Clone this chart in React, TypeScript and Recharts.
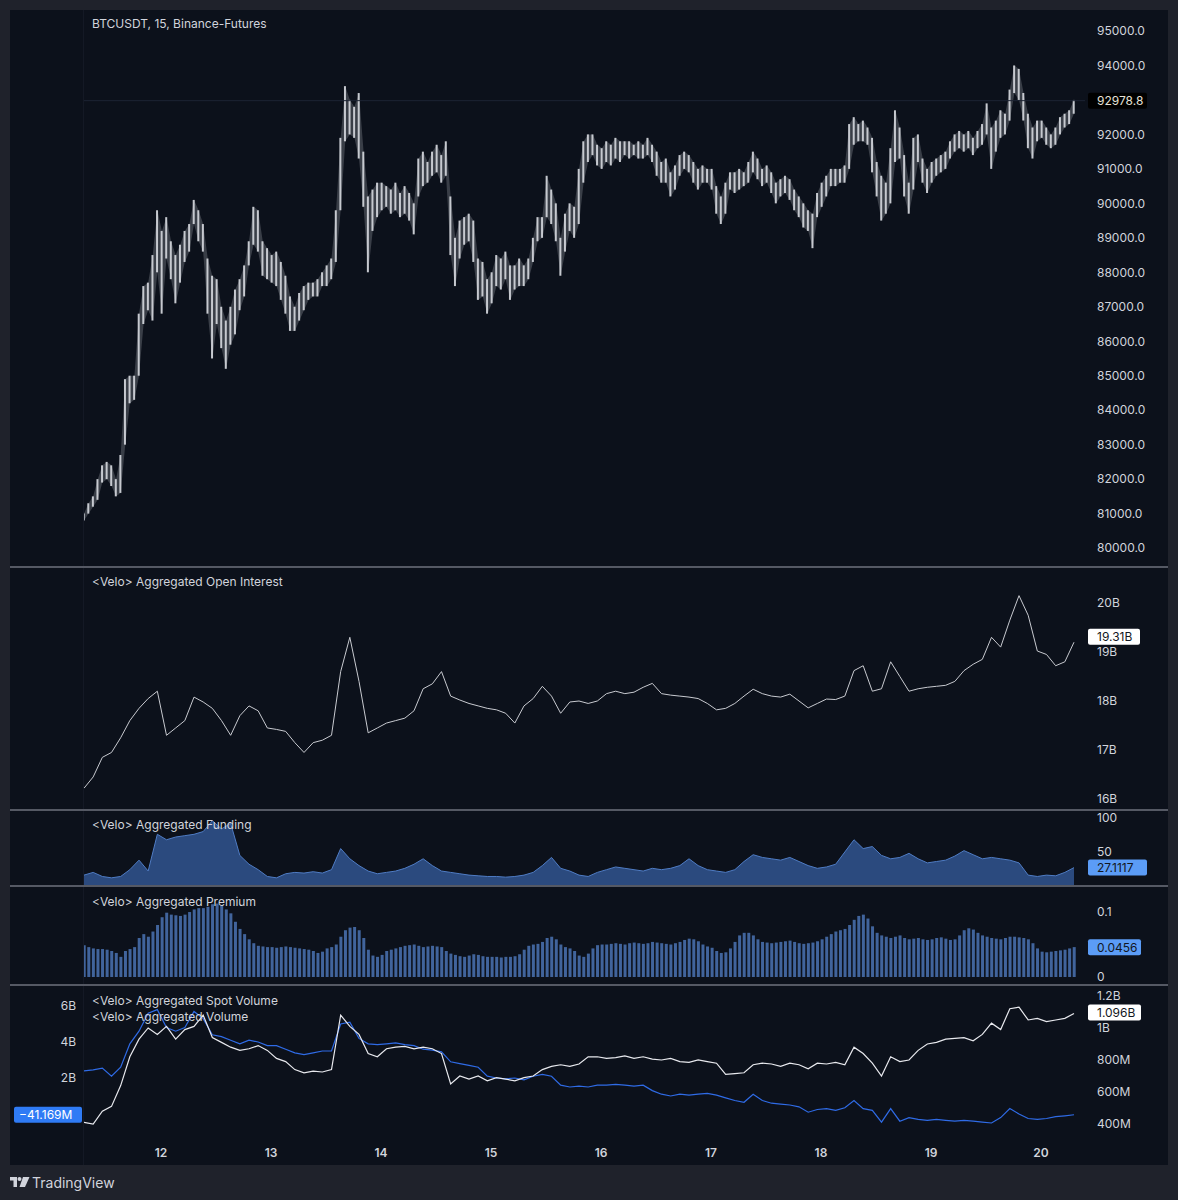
import React from 'react'
import { ComposedChart, Bar, Line, Area, XAxis, YAxis, ReferenceLine } from 'recharts'

const FONT = 'Inter, Roboto, "Noto Sans", sans-serif'
const TEXT = '#d1d4dc'
const BG = '#0c111b'
const FRAME = '#1f222b'
const W = 1178

// time axis in days of the month; first bar ~11th 07:00
const T0 = 11.3
const X_DOMAIN: [number, number] = [11.3, 20.4]
const DAY_TICKS = [12, 13, 14, 15, 16, 17, 18, 19, 20]

// 93000 is covered by the last-price tag in the reference
const PRICE_TICKS = [80000, 81000, 82000, 83000, 84000, 85000, 86000, 87000, 88000, 89000, 90000, 91000, 92000, 94000, 95000]
const OI_TICKS = [16, 17, 18, 19, 20]
const FUNDING_TICKS = [50, 100]
const PREMIUM_TICKS = [0, 0.1]
const VOL_LEFT_TICKS = [2, 4, 6]
const VOL_RIGHT_TICKS = [400, 600, 800, 1000, 1200]

// BTCUSDT hourly low / high
const priceLow = [
  80800, 81000, 81200, 81400, 81900, 82000, 81800, 81500, 81600, 83000,
  84200, 84300, 85000, 86500, 86900, 86600, 88000, 86800, 88400, 87800,
  87100, 87700, 88300, 88600, 89400, 88900, 88600, 86800, 85500, 86500,
  85800, 85200, 85900, 86200, 86900, 87300, 88200, 88800, 88600, 87900,
  87800, 87700, 87600, 87200, 86800, 86300, 86300, 86600, 86900, 87200,
  87300, 87300, 87600, 87600, 87800, 88300, 89800, 91800, 92000, 91900,
  91300, 89900, 88000, 89200, 89600, 89800, 89900, 89700, 89800, 89600,
  89700, 89500, 89100, 90200, 90500, 90600, 90800, 90900, 90600, 90800,
  88500, 87600, 88400, 88800, 88900, 88300, 87200, 87300, 86800, 87100,
  87600, 87500, 87800, 87200, 87500, 87600, 87600, 87800, 88300, 88900,
  89000, 89600, 89400, 88900, 87900, 88600, 89200, 89000, 89400, 90600,
  91200, 91400, 91100, 91000, 91200, 91100, 91300, 91200, 91400, 91300,
  91400, 91300, 91300, 91400, 91200, 90800, 90600, 90600, 90200, 90400,
  90800, 91000, 90900, 90600, 90400, 90600, 90600, 90400, 89700, 89400,
  89700, 90400, 90300, 90400, 90500, 90600, 90900, 90700, 90500, 90600,
  90300, 90000, 90200, 90300, 90100, 89800, 89600, 89300, 89200, 88700,
  89600, 89900, 90200, 90500, 90500, 90600, 90600, 91000, 91700, 91800,
  91800, 91700, 90900, 90200, 89500, 89700, 90000, 91200, 91300, 90200,
  89700, 90400, 91200, 90600, 90300, 90600, 90800, 90900, 91000, 91300,
  91500, 91600, 91500, 91600, 91400, 91600, 91700, 92000, 91000, 91500,
  91900, 92000, 92400, 93200, 93000, 92400, 91600, 91300, 91800, 91900,
  91700, 91600, 91700, 92000, 92200, 92300, 92600,
]
const priceHigh = [
  81000, 81300, 81500, 82000, 82400, 82500, 82400, 82000, 82700, 84900,
  85000, 85000, 86800, 87600, 87700, 88500, 89800, 89200, 89600, 88900,
  88500, 88800, 89200, 89400, 90100, 89800, 89400, 88400, 87900, 87800,
  87000, 86600, 87000, 87500, 87800, 88200, 88900, 89900, 89800, 88900,
  88700, 88500, 88600, 88300, 87900, 87300, 87000, 87400, 87600, 87700,
  87700, 87800, 88000, 88200, 88400, 89800, 91900, 93400, 93000, 92800,
  93200, 91500, 90200, 90400, 90600, 90600, 90500, 90400, 90600, 90300,
  90500, 90300, 90000, 91300, 91500, 91200, 91500, 91700, 91400, 91800,
  90200, 89000, 89500, 89600, 89700, 89500, 88400, 88300, 87800, 88000,
  88500, 88400, 88600, 88200, 88200, 88400, 88200, 88400, 89000, 89600,
  89600, 90800, 90400, 90000, 89000, 89700, 90000, 89900, 91000, 91800,
  92000, 92000, 91700, 91600, 91800, 91700, 91900, 91800, 91800, 91800,
  91700, 91800, 91700, 91900, 91700, 91500, 91200, 91300, 90900, 91100,
  91400, 91500, 91400, 91200, 91000, 91100, 91000, 91000, 90500, 90200,
  90600, 90900, 90900, 91000, 90900, 91200, 91500, 91300, 91000, 91100,
  90900, 90600, 90700, 90800, 90700, 90400, 90200, 90000, 89800, 89700,
  90300, 90600, 90800, 91000, 91000, 91000, 91100, 92300, 92500, 92300,
  92400, 92200, 91900, 91200, 90800, 90600, 91600, 92700, 92200, 91400,
  90600, 91900, 92000, 91300, 91000, 91200, 91300, 91400, 91500, 91800,
  92000, 92100, 92000, 92100, 91900, 92100, 92300, 92900, 92200, 92400,
  92700, 92600, 93300, 94000, 93900, 93200, 92600, 92200, 92400, 92400,
  92200, 92000, 92200, 92500, 92600, 92700, 93000,
]
const lastPrice = 92978.8

// 2-hourly open interest, billions
const openInterest = [
  16.22, 16.45, 16.85, 16.95, 17.25, 17.6, 17.85, 18.05, 18.2, 17.3,
  17.45, 17.6, 18.08, 17.98, 17.85, 17.6, 17.3, 17.7, 17.9, 17.8,
  17.45, 17.42, 17.38, 17.15, 16.95, 17.15, 17.2, 17.3, 18.6, 19.3,
  18.4, 17.35, 17.45, 17.55, 17.6, 17.65, 17.8, 18.25, 18.35, 18.6,
  18.1, 18.02, 17.95, 17.9, 17.85, 17.82, 17.75, 17.55, 17.9, 18.05,
  18.3, 18.1, 17.75, 17.98, 18.0, 17.95, 18.0, 18.15, 18.2, 18.15,
  18.18, 18.28, 18.36, 18.15, 18.12, 18.1, 18.08, 18.05, 17.95, 17.82,
  17.85, 17.95, 18.1, 18.24, 18.15, 18.1, 18.08, 18.14, 18.0, 17.86,
  17.95, 18.04, 18.03, 18.1, 18.62, 18.72, 18.2, 18.25, 18.8, 18.5,
  18.2, 18.25, 18.28, 18.3, 18.32, 18.4, 18.62, 18.75, 18.85, 19.3,
  19.1, 19.65, 20.15, 19.75, 19.02, 18.95, 18.72, 18.8, 19.2,
]
const lastOI = 19.31

// 2-hourly aggregated funding
const funding = [
  16, 20, 14, 12, 14, 24, 38, 22, 76, 68,
  72, 74, 76, 80, 96, 84, 92, 45, 32, 24,
  14, 12, 18, 20, 19, 21, 19, 24, 55, 40,
  30, 22, 18, 20, 22, 26, 32, 40, 30, 22,
  20, 18, 16, 15, 14, 14, 13, 14, 16, 20,
  30, 42, 26, 22, 16, 14, 20, 24, 28, 26,
  24, 22, 26, 24, 26, 30, 40, 30, 24, 22,
  20, 24, 36, 46, 42, 40, 38, 42, 36, 30,
  26, 28, 32, 50, 68, 55, 58, 45, 40, 42,
  48, 40, 34, 36, 38, 44, 52, 46, 40, 42,
  40, 38, 34, 16, 14, 16, 15, 20, 27,
]
const lastFunding = 27.1117

// hourly aggregated premium
const premium = [
  0.049, 0.046, 0.044, 0.043, 0.043, 0.042, 0.040, 0.037, 0.031, 0.040,
  0.043, 0.046, 0.060, 0.066, 0.062, 0.070, 0.080, 0.092, 0.099, 0.096,
  0.095, 0.094, 0.096, 0.100, 0.104, 0.106, 0.106, 0.108, 0.112, 0.113,
  0.110, 0.104, 0.098, 0.085, 0.074, 0.066, 0.058, 0.052, 0.048, 0.047,
  0.046, 0.046, 0.045, 0.046, 0.047, 0.046, 0.045, 0.044, 0.043, 0.042,
  0.040, 0.037, 0.039, 0.044, 0.046, 0.050, 0.062, 0.072, 0.076, 0.077,
  0.072, 0.060, 0.042, 0.033, 0.031, 0.034, 0.040, 0.042, 0.044, 0.046,
  0.048, 0.049, 0.050, 0.048, 0.046, 0.047, 0.048, 0.047, 0.046, 0.040,
  0.036, 0.034, 0.032, 0.031, 0.033, 0.035, 0.034, 0.032, 0.031, 0.031,
  0.031, 0.030, 0.031, 0.031, 0.032, 0.035, 0.042, 0.048, 0.050, 0.051,
  0.054, 0.060, 0.062, 0.058, 0.050, 0.046, 0.044, 0.040, 0.033, 0.031,
  0.036, 0.044, 0.049, 0.050, 0.050, 0.051, 0.052, 0.051, 0.050, 0.052,
  0.053, 0.052, 0.051, 0.052, 0.054, 0.053, 0.052, 0.051, 0.050, 0.052,
  0.054, 0.057, 0.059, 0.058, 0.055, 0.050, 0.047, 0.045, 0.040, 0.037,
  0.038, 0.044, 0.054, 0.064, 0.068, 0.068, 0.064, 0.058, 0.054, 0.053,
  0.052, 0.053, 0.054, 0.055, 0.056, 0.054, 0.052, 0.051, 0.052, 0.053,
  0.055, 0.058, 0.062, 0.066, 0.070, 0.072, 0.074, 0.080, 0.088, 0.094,
  0.096, 0.090, 0.078, 0.068, 0.064, 0.062, 0.060, 0.062, 0.064, 0.060,
  0.058, 0.059, 0.060, 0.058, 0.057, 0.058, 0.060, 0.061, 0.059, 0.057,
  0.058, 0.064, 0.072, 0.075, 0.073, 0.068, 0.064, 0.062, 0.060, 0.059,
  0.058, 0.060, 0.062, 0.062, 0.061, 0.060, 0.058, 0.052, 0.044, 0.039,
  0.038, 0.039, 0.040, 0.041, 0.042, 0.044, 0.046,
]
const lastPremium = 0.0456

// 2-hourly spot volume line, millions (right scale)
const spotVolume = [
  410, 400, 480, 510, 640, 820, 930, 1000, 960, 1010,
  930, 990, 1010, 1080, 940, 910, 880, 860, 870, 890,
  860, 810, 790, 740, 720, 730, 725, 740, 1080, 1010,
  960, 840, 820, 870, 880, 885, 870, 880, 870, 840,
  650, 700, 680, 700, 670, 690, 680, 670, 690, 700,
  740, 760, 770, 760, 775, 820, 820, 810, 815, 825,
  810, 820, 805, 800, 810, 790, 785, 800, 790, 780,
  710, 715, 720, 770, 780, 775, 760, 780, 770, 745,
  780, 775, 785, 770, 880, 840, 780, 700, 820, 790,
  800, 860, 900, 910, 930, 935, 940, 920, 960, 1030,
  990, 1120, 1130, 1050, 1060, 1040, 1050, 1060, 1090,
]
const lastSpot = '1.096B'

// 2-hourly aggregated volume line, billions (left scale)
const aggVolume = [
  2.4, 2.45, 2.55, 2.1, 2.6, 3.9, 4.6, 5.6, 5.8, 4.8,
  4.6, 4.8, 5.7, 5.3, 4.4, 4.3, 4.1, 3.9, 4.1, 4.0,
  3.8, 3.8, 3.6, 3.4, 3.3, 3.4, 3.5, 3.5, 5.0, 5.1,
  4.2, 3.9, 3.85, 3.9, 3.95, 3.85, 3.8, 3.6, 3.55, 3.45,
  2.9, 2.8, 2.7, 2.6, 2.1, 2.0, 1.95, 2.0, 1.9, 2.1,
  2.2, 2.1, 1.6, 1.5, 1.55, 1.5, 1.6, 1.6, 1.65, 1.6,
  1.55, 1.6, 1.3, 1.1, 1.0, 1.1, 1.05, 1.1, 1.15, 1.05,
  0.9, 0.75, 0.65, 1.1, 0.75, 0.6, 0.55, 0.5, 0.4, 0.1,
  0.25, 0.3, 0.2, 0.35, 0.75, 0.3, 0.2, -0.45, 0.3, -0.4,
  -0.2, -0.3, -0.35, -0.3, -0.35, -0.4, -0.35, -0.4, -0.45, -0.5,
  -0.2, 0.3, 0.0, -0.25, -0.3, -0.25, -0.15, -0.1, -0.04,
]
const lastAgg = -0.041169

const priceData = priceHigh.map((hi, i) => ({ t: T0 + i / 24, range: [priceLow[i], hi] }))
const oiData = openInterest.map((v, i) => ({ t: T0 + i / 12, v }))
const fundingData = funding.map((v, i) => ({ t: T0 + i / 12, v }))
const premiumData = premium.map((v, i) => ({ t: T0 + i / 24, v }))
const volumeData = spotVolume.map((v, i) => ({ t: T0 + i / 12, spot: v, agg: aggVolume[i] }))

const tickStyle = { fill: TEXT, fontSize: 12, fontFamily: FONT }

function Tag(props: any) {
  const { viewBox, text, bg, fg, w, side } = props
  if (!viewBox) return null
  const y = viewBox.y
  const x = side === 'left' ? viewBox.x - w - 2 : viewBox.x + viewBox.width + 3
  return (
    <g>
      <rect x={x} y={y - 8} width={w} height={16} rx={2} fill={bg} />
      <text x={x + (side === 'left' ? 5 : 9)} y={y} dy="0.36em" fill={fg} fontSize={12} fontFamily={FONT}>
        {text}
      </text>
    </g>
  )
}

function Title({ top, children }: { top: number; children: React.ReactNode }) {
  return (
    <div style={{ position: 'absolute', left: 92, top, fontSize: 12, lineHeight: '14px', color: TEXT, fontFamily: FONT, whiteSpace: 'nowrap' }}>
      {children}
    </div>
  )
}

function Divider({ top }: { top: number }) {
  return <div style={{ position: 'absolute', left: 10, top, width: 1158, height: 2, background: '#555964' }} />
}

const pane = (top: number): React.CSSProperties => ({ position: 'absolute', left: 0, top })
const hiddenX = <XAxis type="number" dataKey="t" domain={X_DOMAIN} allowDataOverflow hide />

function fmtVolRight(v: number) {
  return v >= 1000 ? `${v / 1000}B` : `${v}M`
}

export default function App() {
  return (
    <div style={{ position: 'relative', width: W, height: 1200, background: FRAME, fontFamily: FONT, overflow: 'hidden' }}>
      <style>{`body{margin:0;background:${FRAME}}`}</style>
      <div style={{ position: 'absolute', left: 10, top: 10, width: 1158, height: 1155, background: BG }} />
      <div style={{ position: 'absolute', left: 83, top: 10, width: 1, height: 1155, background: '#141925' }} />

      {/* price */}
      <div style={pane(10)}>
        <ComposedChart width={W} height={556} data={priceData} margin={{ top: 0, right: 0, bottom: 0, left: 84 }}>
          {hiddenX}
          <YAxis orientation="right" width={93} domain={[79480, 95609]} allowDataOverflow ticks={PRICE_TICKS} interval={0}
            axisLine={false} tickLine={false} tickMargin={6} tick={tickStyle} tickFormatter={(v: number) => v.toFixed(1)} />
          <ReferenceLine y={lastPrice} stroke="#1d2433" strokeWidth={1}
            label={<Tag text={lastPrice.toFixed(1)} bg="#000000" fg="#e6e2d8" w={59} />} />
          <Area dataKey="range" stroke="none" fill="#8f939c" fillOpacity={0.35} type="linear" isAnimationActive={false} />
          <Bar dataKey="range" fill="#c6c9cf" barSize={2} isAnimationActive={false} />
        </ComposedChart>
      </div>

      {/* open interest */}
      <div style={pane(569)}>
        <ComposedChart width={W} height={240} data={oiData} margin={{ top: 0, right: 0, bottom: 0, left: 84 }}>
          {hiddenX}
          <YAxis orientation="right" width={93} domain={[15.796, 20.694]} allowDataOverflow ticks={OI_TICKS} interval={0}
            axisLine={false} tickLine={false} tickMargin={6} tick={tickStyle} tickFormatter={(v: number) => `${v}B`} />
          <ReferenceLine y={lastOI} strokeOpacity={0}
            label={<Tag text={`${lastOI}B`} bg="#ffffff" fg="#131722" w={52} />} />
          <Line dataKey="v" stroke="#c8cad0" strokeWidth={1} dot={false} type="linear" isAnimationActive={false} />
        </ComposedChart>
      </div>

      {/* funding */}
      <div style={pane(804)}>
        <ComposedChart width={W} height={82} data={fundingData} margin={{ top: 8, right: 0, bottom: 0, left: 84 }}>
          {hiddenX}
          <YAxis orientation="right" width={93} domain={[0, 108.8]} allowDataOverflow ticks={FUNDING_TICKS} interval={0}
            axisLine={false} tickLine={false} tickMargin={6} tick={tickStyle} />
          <Area dataKey="v" stroke="#4f7cc4" strokeWidth={1} fill="#2b4a7e" fillOpacity={1} type="linear" isAnimationActive={false} />
          <ReferenceLine y={lastFunding} strokeOpacity={0}
            label={<Tag text={String(lastFunding)} bg="#5b9cf6" fg="#131722" w={59} />} />
        </ComposedChart>
      </div>

      {/* premium */}
      <div style={pane(888)}>
        <ComposedChart width={W} height={96} data={premiumData} margin={{ top: 0, right: 0, bottom: 0, left: 84 }}>
          {hiddenX}
          <YAxis orientation="right" width={93} domain={[-0.0108, 0.137]} allowDataOverflow ticks={PREMIUM_TICKS} interval={0}
            axisLine={false} tickLine={false} tickMargin={6} tick={tickStyle} />
          <Bar dataKey="v" fill="#41649c" barSize={3} isAnimationActive={false} />
          <ReferenceLine y={lastPremium} strokeOpacity={0}
            label={<Tag text={String(lastPremium)} bg="#5b9cf6" fg="#131722" w={53} />} />
        </ComposedChart>
      </div>

      {/* volumes */}
      <div style={pane(987)}>
        <ComposedChart width={W} height={178} data={volumeData} margin={{ top: 0, right: 0, bottom: 0, left: 0 }}>
          <XAxis type="number" dataKey="t" domain={X_DOMAIN} allowDataOverflow ticks={DAY_TICKS} interval={0} height={25}
            axisLine={false} tickLine={false} tick={{ ...tickStyle, fontWeight: 600 }} />
          <YAxis yAxisId="l" orientation="left" width={84} domain={[-1.444, 7.056]} allowDataOverflow ticks={VOL_LEFT_TICKS} interval={0}
            axisLine={false} tickLine={false} tick={tickStyle} tickFormatter={(v: number) => `${v}B`} />
          <YAxis yAxisId="r" orientation="right" width={93} domain={[300, 1256]} allowDataOverflow ticks={VOL_RIGHT_TICKS} interval={0}
            axisLine={false} tickLine={false} tickMargin={6} tick={tickStyle} tickFormatter={fmtVolRight} />
          <Line yAxisId="l" dataKey="agg" stroke="#2f6be6" strokeWidth={1.2} dot={false} type="linear" isAnimationActive={false} />
          <Line yAxisId="r" dataKey="spot" stroke="#e8e9ee" strokeWidth={1.2} dot={false} type="linear" isAnimationActive={false} />
          <ReferenceLine yAxisId="r" y={1096} strokeOpacity={0}
            label={<Tag text={lastSpot} bg="#ffffff" fg="#131722" w={53} />} />
          <ReferenceLine yAxisId="l" y={lastAgg} strokeOpacity={0}
            label={<Tag side="left" text="−41.169M" bg="#2f7bf5" fg="#ffffff" w={68} />} />
        </ComposedChart>
      </div>

      <Divider top={566} />
      <Divider top={809} />
      <Divider top={885} />
      <Divider top={984} />

      <Title top={17}>BTCUSDT, 15, Binance-Futures</Title>
      <Title top={575}>{'<Velo> Aggregated Open Interest'}</Title>
      <Title top={818}>{'<Velo> Aggregated Funding'}</Title>
      <Title top={895}>{'<Velo> Aggregated Premium'}</Title>
      <Title top={994}>{'<Velo> Aggregated Spot Volume'}</Title>
      <Title top={1010}>{'<Velo> Aggregated Volume'}</Title>

      {/* footer */}
      <svg style={{ position: 'absolute', left: 10, top: 1177 }} width={20} height={12}>
        <path d="M0 0H7V10H3.5V3.5H0Z" fill={TEXT} />
        <circle cx={9.5} cy={2} r={2} fill={TEXT} />
        <path d="M13 0H19.5L15 10H9.5Z" fill={TEXT} />
      </svg>
      <div style={{ position: 'absolute', left: 32, top: 1175, fontSize: 14, lineHeight: '16px', color: TEXT, fontFamily: FONT }}>TradingView</div>
    </div>
  )
}
